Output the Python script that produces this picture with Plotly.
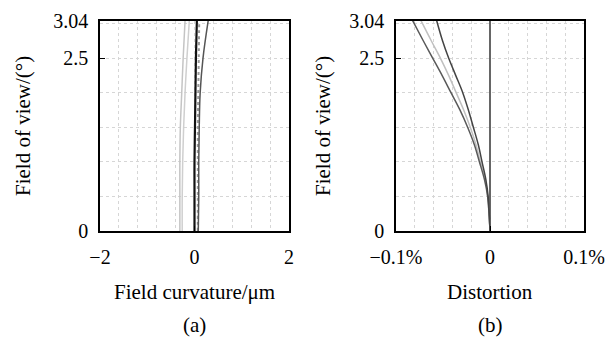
import plotly.graph_objects as go

# ---- data ----
fov = [0, 0.5, 1.0, 1.5, 2.0, 2.5, 3.04]
fov_b = [0, 0.5, 0.75, 1.0, 1.25, 1.5, 1.75, 2.0, 2.25, 2.5, 2.75, 3.04]

# (a) field curvature (um)
fc_black = [0.0, 0.0, 0.0, 0.01, 0.02, 0.03, 0.05]
fc_dotted = [0.07, 0.07, 0.07, 0.07, 0.08, 0.09, 0.10]
fc_dark = [0.08, 0.09, 0.09, 0.10, 0.12, 0.18, 0.29]
fc_light1 = [-0.31, -0.31, -0.31, -0.30, -0.27, -0.24, -0.20]
fc_light2 = [-0.26, -0.26, -0.25, -0.23, -0.20, -0.16, -0.11]

# (b) distortion (%)
dist_outer = [0.0, -0.0025, -0.006, -0.0113, -0.0167, -0.0238, -0.032, -0.0415, -0.051, -0.061, -0.071, -0.0823]
dist_light = [0.0, -0.0025, -0.005, -0.0103, -0.015, -0.021, -0.028, -0.036, -0.044, -0.0528, -0.0625, -0.0734]
dist_inner = [0.0, -0.002, -0.0045, -0.0085, -0.0125, -0.0177, -0.023, -0.029, -0.0365, -0.044, -0.0505, -0.0567]

fc_ticks = [-2, 0, 2]
fc_ticktext = ["\u22122", "0", "2"]
dist_ticks = [-0.1, 0, 0.1]
dist_ticktext = ["\u22120.1%", "0", "0.1%"]
fov_ticks = [0, 2.5, 3.04]
fov_ticktext = ["0", "2.5", "3.04"]

FONT = "Liberation Serif"
fig = go.Figure()

def add(x, y, color, width, dash="solid", xa="x", ya="y"):
    fig.add_trace(go.Scatter(x=x, y=y, mode="lines", xaxis=xa, yaxis=ya,
                             line=dict(color=color, width=width, dash=dash,
                                       shape="spline", smoothing=1.0),
                             showlegend=False, hoverinfo="skip"))

add(fc_light1, fov, "#c4c4c4", 1.5)
add(fc_light2, fov, "#cfcfcf", 1.5)
add(fc_dotted, fov, "#9a9a9a", 2, "dot")
add(fc_dark, fov, "#555555", 1.5)
add(fc_black, fov, "#111111", 2.2)

add(dist_light, fov_b, "#c0c0c0", 1.5, xa="x2", ya="y2")
add(dist_outer, fov_b, "#5a5a5a", 1.5, xa="x2", ya="y2")
add(dist_inner, fov_b, "#444444", 1.5, xa="x2", ya="y2")

W, H = 608, 337
grid = dict(gridcolor="#d6d6d6", griddash="dot", gridwidth=1.2)

def xaxis(dom, rng, tv, tt, step):
    return dict(domain=dom, range=rng, tickvals=tv, ticktext=tt, ticks="inside",
                ticklen=5, tickcolor="black", showline=True, linecolor="black",
                linewidth=1.5, mirror=True, showgrid=False, zeroline=False,
                automargin=False, ticklabelstandoff=7,
                tickfont=dict(family=FONT, size=20, color="black"),
                minor=dict(tick0=rng[0], dtick=step, showgrid=True, ticks="", **grid))

def yaxis(dom, anchor):
    return dict(domain=dom, range=[0, 3.04], tickvals=fov_ticks, ticktext=fov_ticktext,
                ticks="inside", ticklen=5, tickcolor="black", showline=True,
                linecolor="black", linewidth=1.5, mirror=True, showgrid=False,
                zeroline=False, anchor=anchor, automargin=False, ticklabelstandoff=6,
                tickfont=dict(family=FONT, size=20, color="black"),
                minor=dict(tick0=0, dtick=0.5, showgrid=True, ticks="", **grid))

ydom = [1 - 231 / H, 1 - 20.7 / H]
fig.update_layout(
    width=W, height=H, margin=dict(l=0, r=0, t=0, b=0, autoexpand=False),
    paper_bgcolor="white", plot_bgcolor="white",
    font=dict(family=FONT, size=20, color="black"),
    xaxis=xaxis([100 / W, 289 / W], [-2, 2], fc_ticks, fc_ticktext, 0.4),
    yaxis=yaxis(ydom, "x"),
    xaxis2=dict(**xaxis([396 / W, 584 / W], [-0.1, 0.1], dist_ticks, dist_ticktext, 0.02),
                anchor="y2"),
    yaxis2=yaxis(ydom, "x2"),
)
fig.update_layout(xaxis2=dict(zeroline=True, zerolinecolor="#666666", zerolinewidth=1.5))

ann = [
    (23 / W, 1 - 126 / H, "Field of view/(\u00b0)", -90),
    (323 / W, 1 - 126 / H, "Field of view/(\u00b0)", -90),
    (194.5 / W, 1 - 291.7 / H, "Field curvature/\u03bcm", 0),
    (490 / W, 1 - 291.7 / H, "Distortion", 0),
    (194.5 / W, 1 - 325 / H, "(a)", 0),
    (490 / W, 1 - 325 / H, "(b)", 0),
]
for x, y, t, a in ann:
    fig.add_annotation(x=x, y=y, xref="paper", yref="paper", text=t, textangle=a,
                       showarrow=False, xanchor="center", yanchor="middle",
                       font=dict(family=FONT, size=21, color="black"))

fig.write_html("out.html", config={"displayModeBar": False},
               post_script="document.body.style.margin='0';document.body.style.overflow='hidden';")
